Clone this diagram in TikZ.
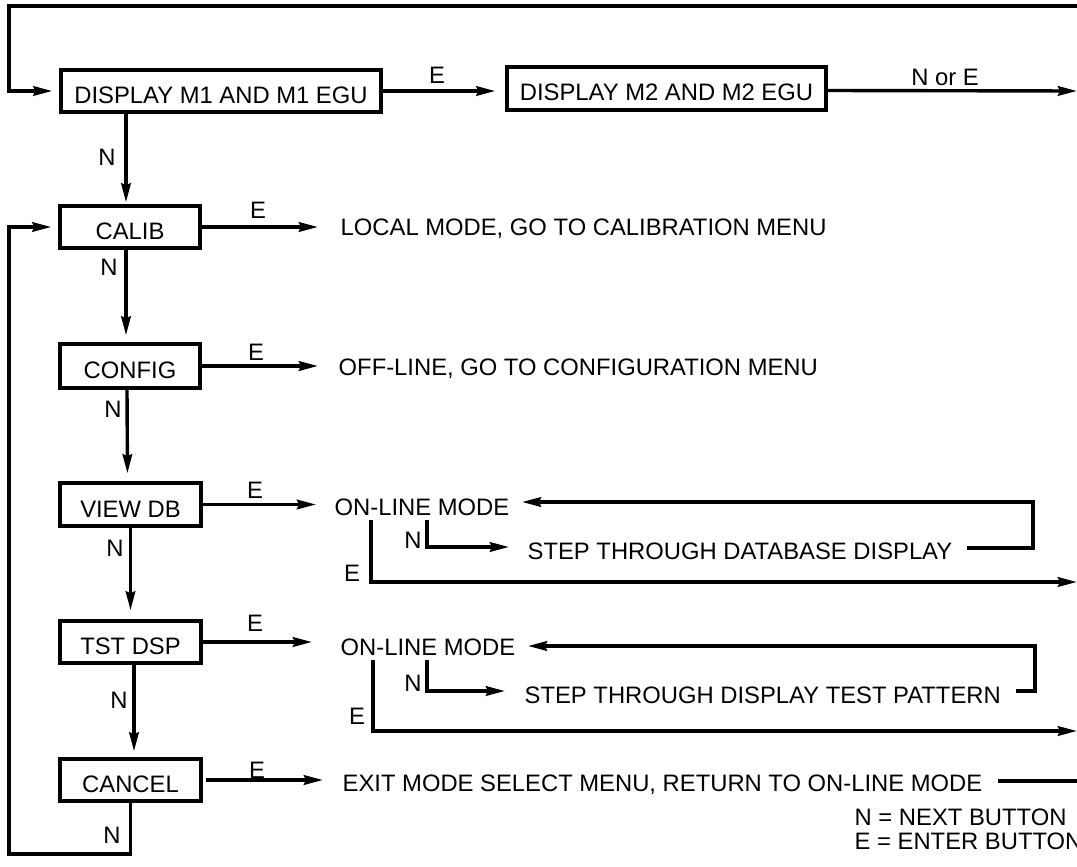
\documentclass[tikz,border=0pt]{standalone}
\usepackage{fontspec}
\setmainfont{Liberation Sans}
\usetikzlibrary{arrows.meta,calc}
\begin{document}
\begin{tikzpicture}[x=1pt,y=-1pt, line width=3.4pt,
  box/.style={draw, line width=3.4pt, inner sep=0pt, minimum height=42pt, text height=25pt, text depth=0pt, font=\fontsize{23.8}{27}\selectfont},
  txt/.style={anchor=base west, inner sep=0pt, font=\fontsize{23.8}{27}\selectfont},
  lbl/.style={inner sep=0pt, font=\fontsize{23.8}{27}\selectfont},
  arr/.style={-{Stealth[length=19pt,width=9.5pt,inset=2pt]}},
  ]
\useasboundingbox (0,0) rectangle (1077,867);

% boxes
\node[box, minimum width=320pt] (m1) at (221,91) {DISPLAY M1 AND M1 EGU};
\node[box, minimum width=319pt, minimum height=43pt] (m2) at (666.5,88.5) {DISPLAY M2 AND M2 EGU};
\node[box, minimum width=140pt] (calib) at (130,227) {CALIB};
\node[box, minimum width=140pt, minimum height=44pt] (config) at (130,366) {CONFIG};
\node[box, minimum width=141pt, minimum height=43pt] (viewdb) at (130.5,504.5) {VIEW DB};
\node[box, minimum width=141pt] (tst) at (130.5,642) {TST DSP};
\node[box, minimum width=141pt] (cancel) at (130.5,780) {CANCEL};

% texts
\node[txt] (local) at (339,235) {LOCAL MODE, GO TO CALIBRATION MENU};
\node[txt] (offline) at (337,375) {OFF-LINE, GO TO CONFIGURATION MENU};
\node[txt] (on1) at (333,515) {ON-LINE MODE};
\node[txt] (step1) at (526,559) {STEP THROUGH DATABASE DISPLAY};
\node[txt] (on2) at (339,655) {ON-LINE MODE};
\node[txt] (step2) at (523,703) {STEP THROUGH DISPLAY TEST PATTERN};
\node[txt] (exit) at (341,791) {EXIT MODE SELECT MENU, RETURN TO ON-LINE MODE};
\node[txt] (legn) at (853,825) {N = NEXT BUTTON};
\node[txt] (lege) at (853,849) {E = ENTER BUTTON};

% labels
\node[lbl] (lE0) at (437,75) {E};
\node[lbl] (lNE) at (945,77) {N or E};
\node[lbl] (lN0) at (107,157) {N};
\node[lbl] (lE1) at (258,210) {E};
\node[lbl] (lN1) at (109,267) {N};
\node[lbl] (lE2) at (256,352) {E};
\node[lbl] (lN2) at (113,409) {N};
\node[lbl] (lE3) at (255,490) {E};
\node[lbl] (lN3) at (115,548) {N};
\node[lbl] (lNb1) at (413,540) {N};
\node[lbl] (lEb1) at (352,573) {E};
\node[lbl] (lE4) at (255,623) {E};
\node[lbl] (lN4) at (119,700) {N};
\node[lbl] (lNb2) at (413,683) {N};
\node[lbl] (lEb2) at (357,716) {E};
\node[lbl] (lE5) at (257,770) {E};
\node[lbl] (lN5) at (112,835) {N};

% coordinates
\coordinate (topR) at (1077,6);
\coordinate (topL) at (9,6);
\coordinate (outM2) at (1077,91);
\coordinate (bl) at (9,854);
\coordinate (n1a) at (427,520);
\coordinate (n1b) at (427,547);
\coordinate (r1a) at (967,548);
\coordinate (r1b) at (1033,548);
\coordinate (r1c) at (1033,502);
\coordinate (e1a) at (371,520);
\coordinate (e1b) at (371,582);
\coordinate (e1c) at (1077,582);
\coordinate (n2a) at (427,660);
\coordinate (n2b) at (427,691);
\coordinate (r2a) at (1016,691);
\coordinate (r2b) at (1035,691);
\coordinate (r2c) at (1035,646);
\coordinate (e2a) at (373,660);
\coordinate (e2b) at (373,731);
\coordinate (e2c) at (1077,731);
\coordinate (x1) at (998,781);
\coordinate (x2) at (1077,781);

% top loop
\draw[arr, shorten >=7pt] (topR) -- (topL) -- (topL |- m1.west) -- (m1.west);
\draw[arr, shorten >=10pt] (m1.east) -- (m1.east -| m2.west);
\draw[arr] ([yshift=-2pt]m2.east) -- (outM2);

% N chain
\draw[arr, shorten >=2pt] ([xshift=-4pt]calib.north |- m1.south) -- ([xshift=-4pt]calib.north);
\draw[arr, shorten >=7pt] ([xshift=-4pt]calib.south) -- ([xshift=-4pt]config.north);
\draw[arr, shorten >=8pt] ([xshift=-3pt]config.south) -- ([xshift=-3pt]viewdb.north);
\draw[arr, shorten >=9pt] (viewdb.south) -- (tst.north);
\draw[arr, shorten >=6pt] ([xshift=3.5pt]tst.south) -- ([xshift=3.5pt]cancel.north);
\draw[arr, shorten >=7pt] (cancel.south) -- (cancel.south |- bl) -- (bl) -- (bl |- calib.west) -- (calib.west);

% E arrows
\draw[arr, shorten >=21pt] (calib.east) -- (calib.east -| local.west);
\draw[arr, shorten >=19pt] (config.east) -- (config.east -| offline.west);
\draw[arr, shorten >=17pt] (viewdb.east) -- (viewdb.east -| on1.west);
\draw[arr, shorten >=27pt] (tst.east) -- (tst.east -| on2.west);
\draw[arr, shorten <=3pt, shorten >=18pt] (cancel.east) -- (cancel.east -| exit.west);

% on-line 1
\draw[arr, shorten >=17pt] (n1a) -- (n1b) -- (n1b -| step1.west);
\draw[arr, shorten >=11pt] (r1a) -- (r1b) -- (r1c) -- (r1c -| on1.east);
\draw[arr] (e1a) -- (e1b) -- (e1c);

% on-line 2
\draw[arr, shorten >=18pt] (n2a) -- (n2b) -- (n2b -| step2.west);
\draw[arr, shorten >=11pt] (r2a) -- (r2b) -- (r2c) -- (r2c -| on2.east);
\draw[arr] (e2a) -- (e2b) -- (e2c);

% exit
\draw (x1) -- (x2);
\end{tikzpicture}
\end{document}
